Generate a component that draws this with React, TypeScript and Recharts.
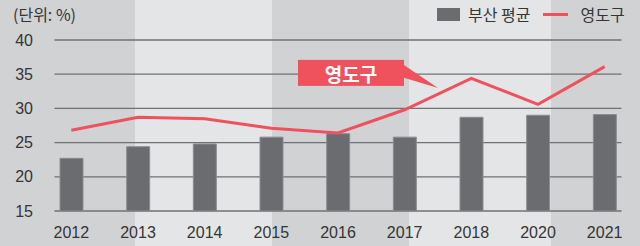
import { ComposedChart, Bar, Line, XAxis, YAxis, CartesianGrid, ReferenceDot } from "recharts"

const years = ["2012", "2013", "2014", "2015", "2016", "2017", "2018", "2020", "2021"]
const busanAvg = [22.7, 24.4, 24.8, 25.8, 26.3, 25.8, 28.7, 29.0, 29.1]
const yeongdo = [26.8, 28.7, 28.5, 27.1, 26.4, 29.8, 34.4, 30.6, 36.1]
const yTicks = [15, 20, 25, 30, 35, 40]

const data = years.map((year, i) => ({ idx: i, year, busan: busanAvg[i], yeongdo: yeongdo[i] }))

const FONT = '"Liberation Sans", Arial, "Noto Sans CJK KR", sans-serif'
const KFONT = '"Noto Sans CJK KR", "Liberation Sans", sans-serif'
const RED = "#ef525d"
const TEXT = "#353535"

function Callout(props: any) {
  const { cx, cy } = props
  if (cx == null || cy == null) return null
  // box sits up-left of the tip, pointer runs to the tip
  const bx = cx - 140
  const by = cy - 28
  return (
    <g>
      <polygon points={`${bx + 100},${by + 1} ${cx},${cy} ${bx + 100},${by + 16}`} fill={RED} />
      <rect x={bx} y={by} width={106} height={26} fill={RED} />
      <text
        x={bx + 53}
        y={by + 14}
        textAnchor="middle"
        dominantBaseline="central"
        fill="#fff"
        fontSize={19}
        fontWeight="bold"
        fontFamily={KFONT}
      >
        영도구
      </text>
    </g>
  )
}

export default function App() {
  return (
    <div
      style={{
        position: "absolute",
        top: 0,
        left: 0,
        width: 640,
        height: 246,
        fontFamily: FONT,
        background:
          "linear-gradient(to right, #d1d2d4 0px, #d1d2d4 135px, #e4e5e7 135px, #e4e5e7 272px, #d1d2d4 272px, #d1d2d4 409px, #e4e5e7 409px, #e4e5e7 551px, #d1d2d4 551px, #d1d2d4 640px)",
      }}
    >
      <div style={{ position: "absolute", left: 13, top: 3, fontSize: 16, color: TEXT, fontFamily: KFONT, lineHeight: "22px" }}>
        (단위: %)
      </div>

      <div
        style={{
          position: "absolute",
          left: 437,
          top: 3,
          display: "flex",
          alignItems: "center",
          fontSize: 16,
          color: TEXT,
          fontFamily: KFONT,
          height: 22,
        }}
      >
        <span style={{ width: 23, height: 13, background: "#6b6c6f", display: "inline-block" }} />
        <span style={{ marginLeft: 8 }}>부산 평균</span>
        <span style={{ width: 25, height: 3, background: RED, display: "inline-block", marginLeft: 13 }} />
        <span style={{ marginLeft: 12 }}>영도구</span>
      </div>

      <ComposedChart width={640} height={246} data={data} margin={{ top: 40, right: 2, left: 0, bottom: 5 }}>
        <CartesianGrid vertical={false} x={54.5} width={567} stroke="#707174" strokeWidth={1.3} />
        <XAxis
          type="number"
          dataKey="idx"
          domain={[-0.5, 8.5]}
          ticks={years.map((_, i) => i)}
          tickFormatter={(i: number) => years[i]}
          axisLine={false}
          tickLine={false}
          tickMargin={10}
          height={30}
          tick={{ fill: TEXT, fontSize: 16, fontFamily: FONT }}
        />
        <YAxis
          domain={[15, 40]}
          ticks={yTicks}
          width={38}
          axisLine={false}
          tickLine={false}
          tickSize={5}
          tickMargin={0}
          tick={{ fill: TEXT, fontSize: 16, fontFamily: FONT }}
        />
        <Bar dataKey="busan" barSize={23} fill="#6b6c6f" stroke="#8b8c8f" strokeWidth={1} isAnimationActive={false} />
        <Line
          type="linear"
          dataKey="yeongdo"
          stroke={RED}
          strokeWidth={3}
          dot={false}
          isAnimationActive={false}
        />
        <ReferenceDot x={5.5} y={33} r={0} ifOverflow="visible" shape={Callout} />
      </ComposedChart>
    </div>
  )
}
